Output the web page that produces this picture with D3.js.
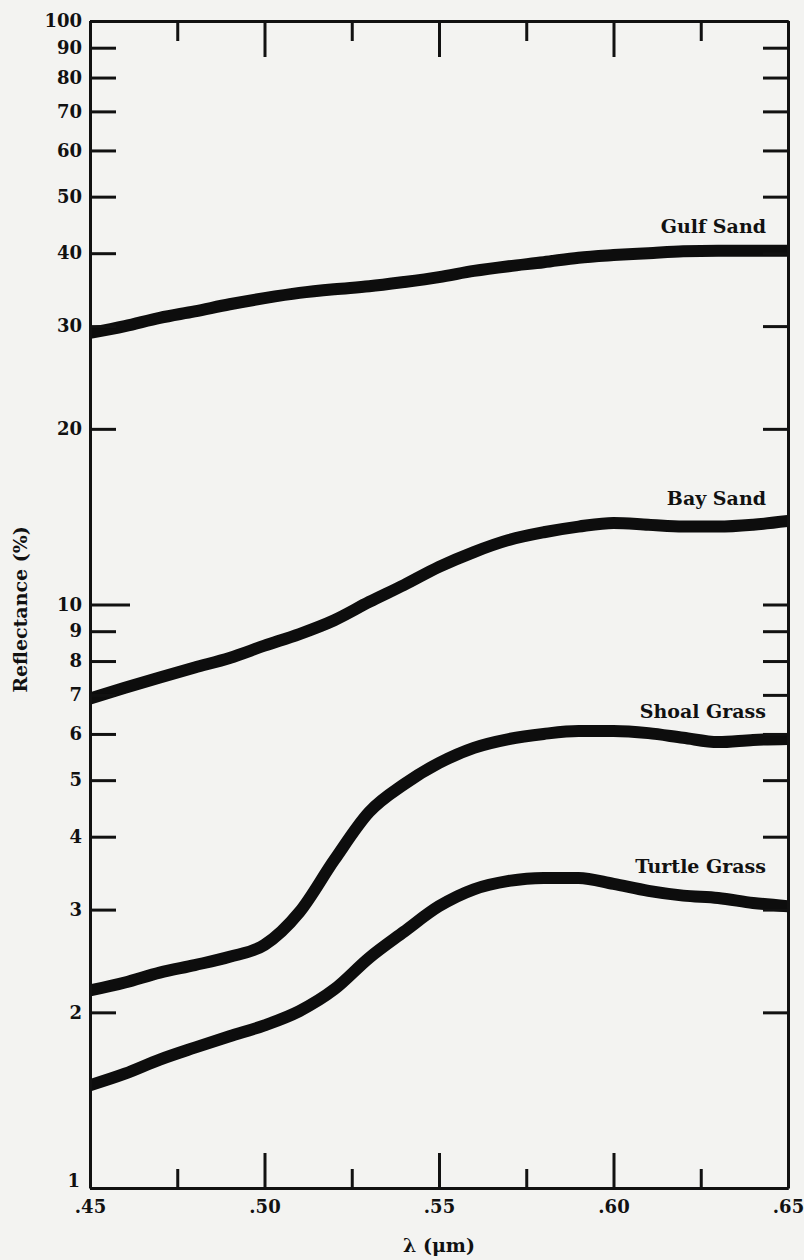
<!DOCTYPE html>
<html>
<head>
<meta charset="utf-8">
<script src="https://cdn.jsdelivr.net/npm/d3@7"></script>
<style>
  html, body { margin: 0; padding: 0; background: #f3f3f1; }
  svg { display: block; }
</style>
</head>
<body>
<svg id="chart"></svg>
<script>
// wavelength grid (µm) and reflectance (%)
var wavelength = [.45, .46, .47, .48, .49, .50, .51, .52, .53, .54, .55, .56, .57, .58, .59, .60, .61, .62, .63, .64, .65]
var gulfSand = [29.2, 30.0, 31.0, 31.8, 32.7, 33.5, 34.2, 34.7, 35.1, 35.7, 36.4, 37.3, 38.0, 38.6, 39.3, 39.7, 40.0, 40.3, 40.4, 40.4, 40.4]
var baySand = [6.9, 7.2, 7.5, 7.8, 8.1, 8.5, 8.9, 9.4, 10.1, 10.8, 11.6, 12.3, 12.9, 13.3, 13.6, 13.8, 13.7, 13.6, 13.6, 13.7, 13.9]
var shoalGrass = [2.18, 2.25, 2.34, 2.41, 2.49, 2.61, 2.97, 3.65, 4.41, 4.92, 5.35, 5.68, 5.88, 6.0, 6.07, 6.07, 6.02, 5.91, 5.81, 5.86, 5.88]
var turtleGrass = [1.50, 1.57, 1.66, 1.74, 1.82, 1.90, 2.01, 2.19, 2.48, 2.75, 3.04, 3.25, 3.36, 3.40, 3.40, 3.32, 3.23, 3.17, 3.14, 3.08, 3.04]
var seriesNames = ["Gulf Sand", "Bay Sand", "Shoal Grass", "Turtle Grass"]

var yTicks = [1, 2, 3, 4, 5, 6, 7, 8, 9, 10, 20, 30, 40, 50, 60, 70, 80, 90, 100]
var xMajor = [.45, .50, .55, .60, .65]
var xMinor = [.475, .525, .575, .625]

var width = 804
var height = 1260
var margin = ({top: 21, right: 16, bottom: 72, left: 90})
var serif = "'DejaVu Serif', 'Liberation Serif', serif"

var x = d3.scaleLinear()
	.domain([.45, .65])
	.range([margin.left, width - margin.right])

var y = d3.scaleLog()
	.domain([1, 100])
	.range([height - margin.bottom, margin.top])

var svg = d3.select("#chart")
	.attr("width", width)
	.attr("height", height)
	.attr("viewBox", [0, 0, width, height])

svg.append("rect")
	.attr("width", width)
	.attr("height", height)
	.attr("fill", "#f3f3f1")

svg.append("clipPath")
	.attr("id", "plot")
	.append("rect")
	.attr("x", x(.45))
	.attr("y", y(100))
	.attr("width", x(.65) - x(.45))
	.attr("height", y(1) - y(100))

var lineFunction = d3.line()
	.x(d => x(d[0]))
	.y(d => y(d[1]))
	.curve(d3.curveMonotoneX)

var allSeries = [gulfSand, baySand, shoalGrass, turtleGrass]

svg.append("g")
	.attr("clip-path", "url(#plot)")
	.selectAll("path")
	.data(allSeries)
	.join("path")
	.attr("fill", "none")
	.attr("stroke", "#0d0d0d")
	.attr("stroke-width", 12)
	.attr("stroke-linejoin", "round")
	.attr("d", s => lineFunction(wavelength.map((w, i) => [w, s[i]])))

// series labels sit above the right end of each curve
var labelLift = {"Gulf Sand": 18, "Bay Sand": 16, "Shoal Grass": 21, "Turtle Grass": 33}
svg.append("g")
	.selectAll("text")
	.data(seriesNames)
	.join("text")
	.attr("x", x(.65) - 22)
	.attr("y", (d, i) => y(allSeries[i][allSeries[i].length - 1]) - labelLift[d])
	.attr("text-anchor", "end")
	.attr("font-family", serif)
	.attr("font-weight", "bold")
	.attr("font-size", 19)
	.attr("fill", "#111")
	.text(d => d)

function styleAxis(g) {
	g.selectAll("line,path").attr("stroke", "#111").attr("stroke-width", 3)
	g.selectAll("text")
		.attr("font-family", serif)
		.attr("font-weight", "bold")
		.attr("font-size", 18)
		.attr("fill", "#111")
}

// left axis, ticks pointing inward
var left = svg.append("g")
	.attr("transform", `translate(${x(.45)},0)`)
	.call(d3.axisLeft(y).tickValues(yTicks).tickFormat(d3.format("d")).tickSize(-26).tickSizeOuter(0).tickPadding(8))
	.call(styleAxis)
left.selectAll(".tick line").filter(d => d === 10).attr("x2", 40)
// the "1" sits a little above the corner so it clears ".45"
left.selectAll(".tick text").filter(d => d === 1).attr("y", -7).attr("x", -10)

svg.append("g")
	.attr("transform", `translate(${x(.65)},0)`)
	.call(d3.axisRight(y).tickValues(yTicks.filter(d => d > 1 && d < 100)).tickFormat("").tickSize(-25).tickSizeOuter(0))
	.call(styleAxis)

svg.append("g")
	.attr("transform", `translate(0,${y(100)})`)
	.call(d3.axisTop(x).tickValues(xMajor).tickFormat("").tickSize(-36).tickSizeOuter(0))
	.call(styleAxis)

svg.append("g")
	.attr("transform", `translate(0,${y(100)})`)
	.call(d3.axisTop(x).tickValues(xMinor).tickFormat("").tickSize(-20).tickSizeOuter(0))
	.call(styleAxis)

svg.append("g")
	.attr("transform", `translate(0,${y(1)})`)
	.call(d3.axisBottom(x).tickValues(xMajor).tickFormat(d => d3.format(".2f")(d).replace(/^0/, "")).tickSize(-35).tickSizeOuter(0).tickPadding(12))
	.call(styleAxis)

svg.append("g")
	.attr("transform", `translate(0,${y(1)})`)
	.call(d3.axisBottom(x).tickValues(xMinor).tickFormat("").tickSize(-19).tickSizeOuter(0))
	.call(styleAxis)

svg.append("text")
	.attr("transform", `translate(27,${(y(1) + y(100)) / 2 + 5}) rotate(-90)`)
	.attr("text-anchor", "middle")
	.attr("font-family", serif)
	.attr("font-weight", "bold")
	.attr("font-size", 19)
	.attr("fill", "#111")
	.text("Reflectance (%)")

svg.append("text")
	.attr("x", (x(.45) + x(.65)) / 2)
	.attr("y", height - 8)
	.attr("text-anchor", "middle")
	.attr("font-family", serif)
	.attr("font-weight", "bold")
	.attr("font-size", 19)
	.attr("fill", "#111")
	.text("λ (μm)")
</script>
</body>
</html>
